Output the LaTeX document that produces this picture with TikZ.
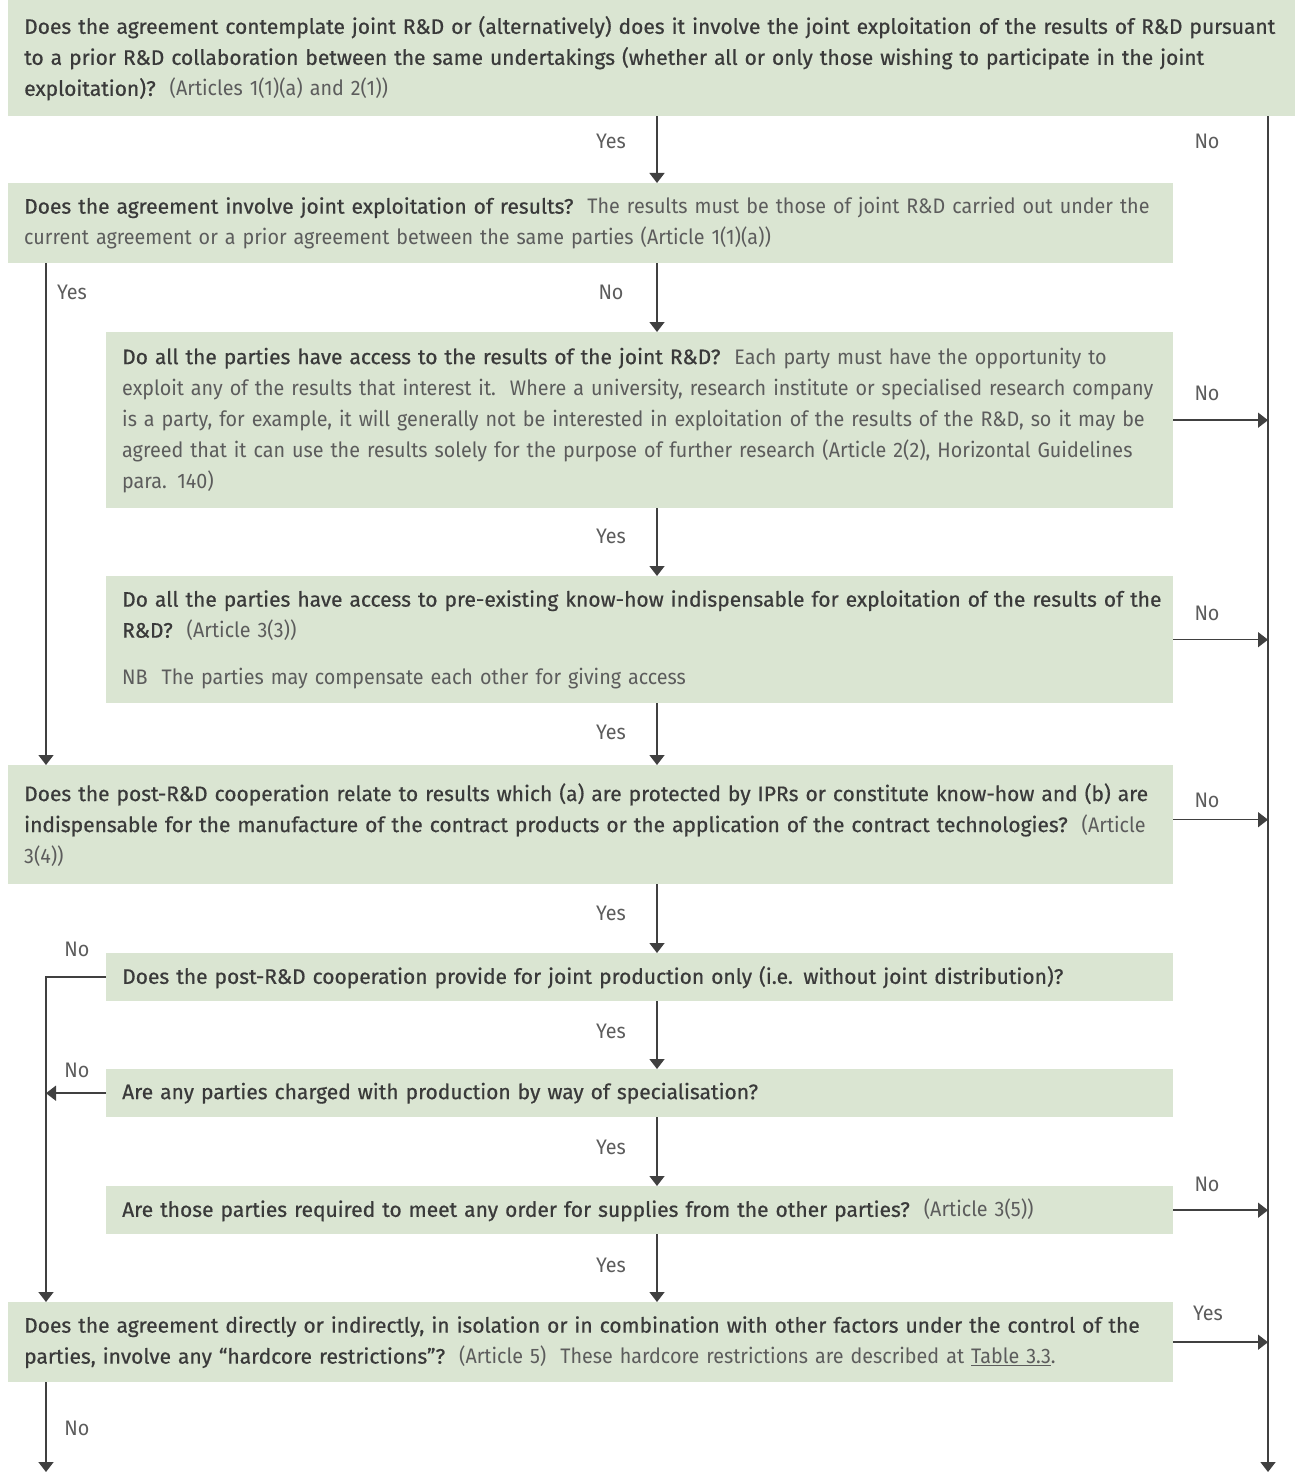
\documentclass[tikz,border=0pt]{standalone}
\usepackage{fontspec}
\setmainfont{Fira Sans}[FakeStretch=0.94]
\newfontface\medfont{Fira Sans}[FakeBold=0.6]
\usetikzlibrary{arrows.meta}

\definecolor{boxgreen}{RGB}{218,229,210}
\definecolor{txtdark}{RGB}{58,58,58}
\definecolor{txtlight}{RGB}{92,92,92}
\definecolor{linegray}{RGB}{64,64,64}

\newcommand{\qtext}[1]{{\medfont\color{txtdark}#1}}

\tikzset{
  qbox/.style={fill=boxgreen, anchor=north west, align=left, inner xsep=16pt, inner ysep=0pt,
    text=txtlight, font=\fontsize{21}{31}\selectfont},
  wide/.style={text width=1133pt},
  narrow/.style={text width=1035pt},
  arr/.style={draw=linegray, line width=1.5pt, -{Triangle[width=15pt,length=10pt]}},
  lbl/.style={text=txtlight, font=\fontsize{21}{24}\selectfont}
}

\begin{document}
\begin{tikzpicture}[x=1pt, y=-1pt]
\useasboundingbox (0,0) rectangle (1309,1474);

% columns of the connectors
\coordinate (mid) at (657,0);
\coordinate (lft) at (46,0);
\coordinate (rgt) at (1268,0);
\coordinate (bot) at (0,1472);

% questions
\node[qbox, text width=1255pt, minimum height=116pt] (q1) at (8,0)
  {\qtext{Does the agreement contemplate joint R\&D or (alternatively) does it involve the joint exploitation of the results of R\&D pursuant}\\
   \qtext{to a prior R\&D collaboration between the same undertakings (whether all or only those wishing to participate in the joint}\\
   \qtext{exploitation)?}\ \ (Articles 1(1)(a) and 2(1))};
\node[qbox, wide, minimum height=80pt] (q2) at (8,183)
  {\qtext{Does the agreement involve joint exploitation of results?}\ \ The results must be those of joint R\&D carried out under the\\
   current agreement or a prior agreement between the same parties (Article 1(1)(a))};
\node[qbox, narrow, minimum height=176pt] (q3) at (106,332)
  {\qtext{Do all the parties have access to the results of the joint R\&D?}\ \ Each party must have the opportunity to\\
   exploit any of the results that interest it.\ \ Where a university, research institute or specialised research company\\
   is a party, for example, it will generally not be interested in exploitation of the results of the R\&D, so it may be\\
   agreed that it can use the results solely for the purpose of further research (Article 2(2), Horizontal Guidelines\\
   para. 140)};
\node[qbox, narrow, minimum height=127pt] (q4) at (106,576)
  {\mbox{\qtext{Do all the parties have access to pre-existing know-how indispensable for exploitation of the results of the}}\\
   \qtext{R\&D?}\ \ (Article 3(3))\\[16pt]
   NB\ \ The parties may compensate each other for giving access};
\node[qbox, wide, minimum height=119pt] (q5) at (8,765)
  {\qtext{Does the post-R\&D cooperation relate to results which (a) are protected by IPRs or constitute know-how and (b) are}\\
   \qtext{indispensable for the manufacture of the contract products or the application of the contract technologies?}\ \ (Article\\
   3(4))};
\node[qbox, narrow, minimum height=48pt] (q6) at (106,953)
  {\qtext{Does the post-R\&D cooperation provide for joint production only (i.e. without joint distribution)?}};
\node[qbox, narrow, minimum height=48pt] (q7) at (106,1069)
  {\qtext{Are any parties charged with production by way of specialisation?}};
\node[qbox, narrow, minimum height=48pt] (q8) at (106,1186)
  {\qtext{Are those parties required to meet any order for supplies from the other parties?}\ \ (Article 3(5))};
\node[qbox, wide, minimum height=80pt] (q9) at (8,1302)
  {\qtext{Does the agreement directly or indirectly, in isolation or in combination with other factors under the control of the}\\
   \qtext{parties, involve any “hardcore restrictions”?}\ \ (Article 5)\ \ These hardcore restrictions are described at \underline{Table 3.3}.};

% yes down the middle
\draw[arr] (q1.south -| mid) -- (q2.north -| mid);
\draw[arr] (q2.south -| mid) -- (q3.north -| mid);
\draw[arr] (q3.south -| mid) -- (q4.north -| mid);
\draw[arr] (q4.south -| mid) -- (q5.north -| mid);
\draw[arr] (q5.south -| mid) -- (q6.north -| mid);
\draw[arr] (q6.south -| mid) -- (q7.north -| mid);
\draw[arr] (q7.south -| mid) -- (q8.north -| mid);
\draw[arr] (q8.south -| mid) -- (q9.north -| mid);

% right hand line
\draw[arr] (q1.south -| rgt) -- (rgt |- bot);
\draw[arr] (q3.east) -- (q3.east -| rgt);
\draw[arr] (q4.east) -- (q4.east -| rgt);
\draw[arr] ([yshift=5pt]q5.east) -- ([yshift=5pt]q5.east -| rgt);
\draw[arr] (q8.east) -- (q8.east -| rgt);
\draw[arr] (q9.east) -- (q9.east -| rgt);

% left hand line
\draw[arr] (q2.south -| lft) -- (q5.north -| lft);
\draw[arr] (q6.west) -| (q9.north -| lft);
\draw[arr] (q7.west) -- (q7.west -| lft);
\draw[arr] (q9.south -| lft) -- (lft |- bot);

% labels
\node[lbl] (y1) at (611,141) {Yes};
\node[lbl] (n1) at (1207,141) {No};
\node[lbl] (y2) at (72,292) {Yes};
\node[lbl] (n2) at (611,292) {No};
\node[lbl] (n3) at (1207,393) {No};
\node[lbl] (y3) at (611,536) {Yes};
\node[lbl] (n4) at (1207,613) {No};
\node[lbl] (y4) at (611,732) {Yes};
\node[lbl] (n5) at (1207,800) {No};
\node[lbl] (y5) at (611,913) {Yes};
\node[lbl] (n6) at (77,949) {No};
\node[lbl] (y6) at (611,1031) {Yes};
\node[lbl] (n7) at (77,1070) {No};
\node[lbl] (y7) at (611,1147) {Yes};
\node[lbl] (n8) at (1207,1184) {No};
\node[lbl] (y8) at (611,1265) {Yes};
\node[lbl] (y9) at (1208,1313) {Yes};
\node[lbl] (n9) at (77,1428) {No};
\end{tikzpicture}
\end{document}
